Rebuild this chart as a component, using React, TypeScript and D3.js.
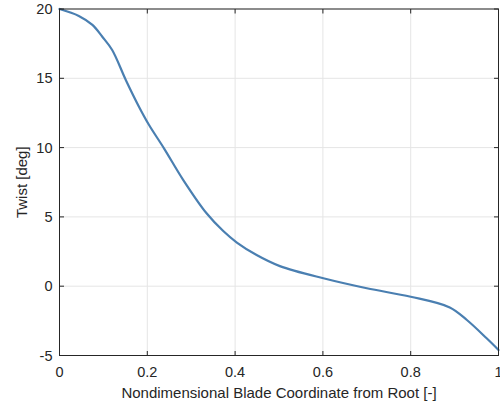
import React, { useEffect, useRef } from 'react';
import * as d3 from 'd3';

// blade coordinate (nondimensional) and twist in degrees
const coord = [0, 0.044, 0.075, 0.0975, 0.12, 0.151, 0.181, 0.204, 0.238, 0.282, 0.335, 0.373, 0.404, 0.449, 0.502, 0.601, 0.70, 0.80, 0.889, 0.928, 0.973, 1.0];
const twist = [20, 19.5, 18.85, 18.0, 17.04, 14.88, 12.95, 11.63, 9.95, 7.66, 5.26, 3.98, 3.15, 2.25, 1.45, 0.57, -0.15, -0.76, -1.53, -2.44, -3.76, -4.6];

const xTicks = [0, 0.2, 0.4, 0.6, 0.8, 1];
const yTicks = [-5, 0, 5, 10, 15, 20];
const xTickLabels = ['0', '0.2', '0.4', '0.6', '0.8', '1'];
const yTickLabels = ['-5', '0', '5', '10', '15', '20'];

const W = 500;
const H = 411;

export default function App() {
  const ref = useRef<SVGSVGElement>(null);

  useEffect(() => {
    const svg = d3.select(ref.current);
    svg.selectAll('*').remove();

    const margin = { top: 9, right: 1.5, bottom: 55.5, left: 59.5 };
    const width = W - margin.left - margin.right;
    const height = H - margin.top - margin.bottom;
    const font = '"Liberation Sans", Arial, sans-serif';
    const axisColor = '#262626';
    const tickSize = 14.5;
    const labelSize = 15;

    const x = d3.scaleLinear().domain([0, 1]).range([0, width]);
    const y = d3.scaleLinear().domain([-5, 20]).range([height, 0]);

    const g = svg.append('g')
      .attr('transform', 'translate(' + margin.left + ',' + margin.top + ')');

    // grid
    g.append('g').selectAll('line').data(xTicks).enter().append('line')
      .attr('x1', d => x(d)).attr('x2', d => x(d))
      .attr('y1', 0).attr('y2', height)
      .attr('stroke', '#e5e5e5').attr('stroke-width', 1);
    g.append('g').selectAll('line').data(yTicks).enter().append('line')
      .attr('y1', d => y(d)).attr('y2', d => y(d))
      .attr('x1', 0).attr('x2', width)
      .attr('stroke', '#e5e5e5').attr('stroke-width', 1);

    // data line
    const pts = coord.map((c, i) => [c, twist[i]] as [number, number]);
    const lineGen = d3.line<[number, number]>()
      .x(d => x(d[0]))
      .y(d => y(d[1]))
      .curve(d3.curveCatmullRom.alpha(0.5));

    g.append('path')
      .attr('d', lineGen(pts))
      .attr('fill', 'none')
      .attr('stroke', '#4a7fb1')
      .attr('stroke-width', 2.2)
      .attr('stroke-linejoin', 'round')
      .attr('stroke-linecap', 'round');

    // box
    g.append('rect')
      .attr('x', 0).attr('y', 0)
      .attr('width', width).attr('height', height)
      .attr('fill', 'none')
      .attr('stroke', axisColor)
      .attr('stroke-width', 1);

    const tl = 4.5;
    // x ticks (bottom and top, inward)
    xTicks.forEach((t, i) => {
      g.append('line').attr('x1', x(t)).attr('x2', x(t)).attr('y1', height).attr('y2', height - tl)
        .attr('stroke', axisColor);
      g.append('line').attr('x1', x(t)).attr('x2', x(t)).attr('y1', 0).attr('y2', tl)
        .attr('stroke', axisColor);
      g.append('text')
        .attr('x', x(t)).attr('y', height + 21)
        .attr('text-anchor', 'middle')
        .attr('font-family', font).attr('font-size', tickSize)
        .attr('fill', axisColor)
        .text(xTickLabels[i]);
    });
    // y ticks (left and right, inward)
    yTicks.forEach((t, i) => {
      g.append('line').attr('y1', y(t)).attr('y2', y(t)).attr('x1', 0).attr('x2', tl)
        .attr('stroke', axisColor);
      g.append('line').attr('y1', y(t)).attr('y2', y(t)).attr('x1', width).attr('x2', width - tl)
        .attr('stroke', axisColor);
      g.append('text')
        .attr('x', -7).attr('y', y(t))
        .attr('dy', '0.35em')
        .attr('text-anchor', 'end')
        .attr('font-family', font).attr('font-size', tickSize)
        .attr('fill', axisColor)
        .text(yTickLabels[i]);
    });

    // axis labels
    svg.append('text')
      .attr('x', margin.left + width / 2).attr('y', 398)
      .attr('text-anchor', 'middle')
      .attr('font-family', font).attr('font-size', labelSize)
      .attr('fill', axisColor)
      .text('Nondimensional Blade Coordinate from Root [-]');

    svg.append('text')
      .attr('transform', 'translate(27,' + (margin.top + height / 2) + ') rotate(-90)')
      .attr('text-anchor', 'middle')
      .attr('font-family', font).attr('font-size', labelSize)
      .attr('fill', axisColor)
      .text('Twist [deg]');
  }, []);

  return (
    <svg ref={ref} width={W} height={H} style={{ position: 'absolute', left: 0, top: 0, background: '#fff' }} />
  );
}
